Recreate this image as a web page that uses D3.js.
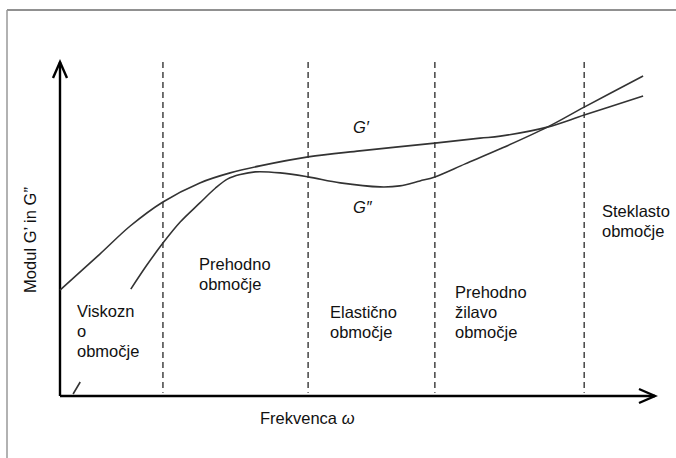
<!DOCTYPE html>
<html>
<head>
<meta charset="utf-8">
<script src="https://cdn.jsdelivr.net/npm/d3@7"></script>
<style>
  body { margin: 0; background: #fff; }
  text { font-family: "Liberation Sans", Arial, sans-serif; fill: #111; }
</style>
</head>
<body>
<div class="container"></div>
<script>
// frequency (arbitrary units 0-100) and modulus (arbitrary units 0-100)
var gPrimeFreq = [0, 6.7, 11.8, 17.3, 23.5, 28.6, 33.6, 41.7, 50.4, 63, 70.6, 74, 81.9, 88.1, 98];
var gPrime     = [31.7, 42.5, 50.9, 58.1, 63.8, 66.8, 68.9, 71.6, 73.4, 75.7, 77.2, 77.8, 80.5, 84.1, 89.8];

// null = gap in the drawn curve
var gDoubleFreq = [2.2, 3.4, null, 11.9, 14.6, 17.3, 20.2, 23.5, 26.1, 28.2, 30.3, 32.8, 37, 41.7, 47.1, 53.8, 57.1, 60.5, 63, 68.1, 74, 81.9, 88.1, 98];
var gDouble     = [0.6, 4.2, null, 32, 39.2, 45.8, 52.1, 57.8, 62.2, 65, 66.3, 67.1, 66.8, 65.6, 63.8, 62.6, 62.9, 64.4, 65.6, 69.5, 74, 80.5, 86.5, 95.8];

var regionBounds = [17.3, 41.7, 63, 88.1];
var regionNames = [
  ["Viskozn", "o", "območje"],
  ["Prehodno", "območje"],
  ["Elastično", "območje"],
  ["Prehodno", "žilavo", "območje"],
  ["Steklasto", "območje"]
];

var width = 676, height = 458;
var svg = d3.select(".container")
  .append("svg")
    .attr("width", width)
    .attr("height", height);

// frame
svg.append("line")
  .attr("x1", 7).attr("y1", 10).attr("x2", 676).attr("y2", 10)
  .style("stroke", "#222").style("stroke-width", 1);
svg.append("line")
  .attr("x1", 7).attr("y1", 10).attr("x2", 7).attr("y2", 458)
  .style("stroke", "#999").style("stroke-width", 1.5);

var x = d3.scaleLinear().domain([0, 100]).range([60, 655]);
var y = d3.scaleLinear().domain([0, 100]).range([396, 62]);

// region boundaries
svg.selectAll(".bound")
  .data(regionBounds)
  .enter()
  .append("line")
    .attr("class", "bound")
    .attr("x1", d => x(d)).attr("x2", d => x(d))
    .attr("y1", y(100)).attr("y2", y(1))
    .style("stroke", "#444")
    .style("stroke-width", 1.5)
    .style("stroke-dasharray", "6,4");

// axes with arrows
var axes = svg.append("g")
  .style("stroke", "#000").style("stroke-width", 2.4).style("fill", "none");
axes.append("line")
  .attr("x1", x(0)).attr("y1", y(0)).attr("x2", x(0)).attr("y2", y(100));
axes.append("line")
  .attr("x1", x(0)).attr("y1", y(0)).attr("x2", x(100)).attr("y2", y(0));
axes.append("path")
  .attr("d", "M" + (x(0) - 7) + "," + (y(100) + 16) + "L" + x(0) + "," + y(100) + "L" + (x(0) + 7) + "," + (y(100) + 16));
axes.append("path")
  .attr("d", "M" + (x(100) - 16) + "," + (y(0) - 7) + "L" + x(100) + "," + y(0) + "L" + (x(100) - 16) + "," + (y(0) + 7));

// curves
var line = d3.line()
  .defined(d => d[0] !== null && d[1] !== null)
  .x(d => x(d[0]))
  .y(d => y(d[1]))
  .curve(d3.curveCatmullRom.alpha(0.5));

svg.append("path")
  .datum(gPrimeFreq.map((f, i) => [f, gPrime[i]]))
  .attr("d", line)
  .style("fill", "none").style("stroke", "#333").style("stroke-width", 1.6);

svg.append("path")
  .datum(gDoubleFreq.map((f, i) => [f, gDouble[i]]))
  .attr("d", line)
  .style("fill", "none").style("stroke", "#333").style("stroke-width", 1.6);

// curve labels
svg.append("text")
  .attr("x", 353).attr("y", 133)
  .style("font-size", "16.5px").style("font-style", "italic")
  .text("G′");
svg.append("text")
  .attr("x", 353).attr("y", 213)
  .style("font-size", "16.5px").style("font-style", "italic")
  .text("G″");

// region labels
var labelPos = [[77, 317], [199, 270], [330, 318], [455, 298], [602, 217]];
regionNames.forEach(function(lines, i) {
  var t = svg.append("text")
    .attr("x", labelPos[i][0])
    .attr("y", labelPos[i][1])
    .style("font-size", "16.5px");
  lines.forEach(function(s, j) {
    t.append("tspan")
      .attr("x", labelPos[i][0])
      .attr("dy", j === 0 ? 0 : 20)
      .text(s);
  });
});

// axis titles
var xt = svg.append("text")
  .attr("x", 260).attr("y", 424)
  .style("font-size", "16.5px");
xt.append("tspan").text("Frekvenca ");
xt.append("tspan").style("font-style", "italic").text("ω");

svg.append("text")
  .attr("transform", "translate(36,240)rotate(-90)")
  .attr("text-anchor", "middle")
  .style("font-size", "16.5px")
  .text("Modul G’ in G”");
</script>
</body>
</html>
